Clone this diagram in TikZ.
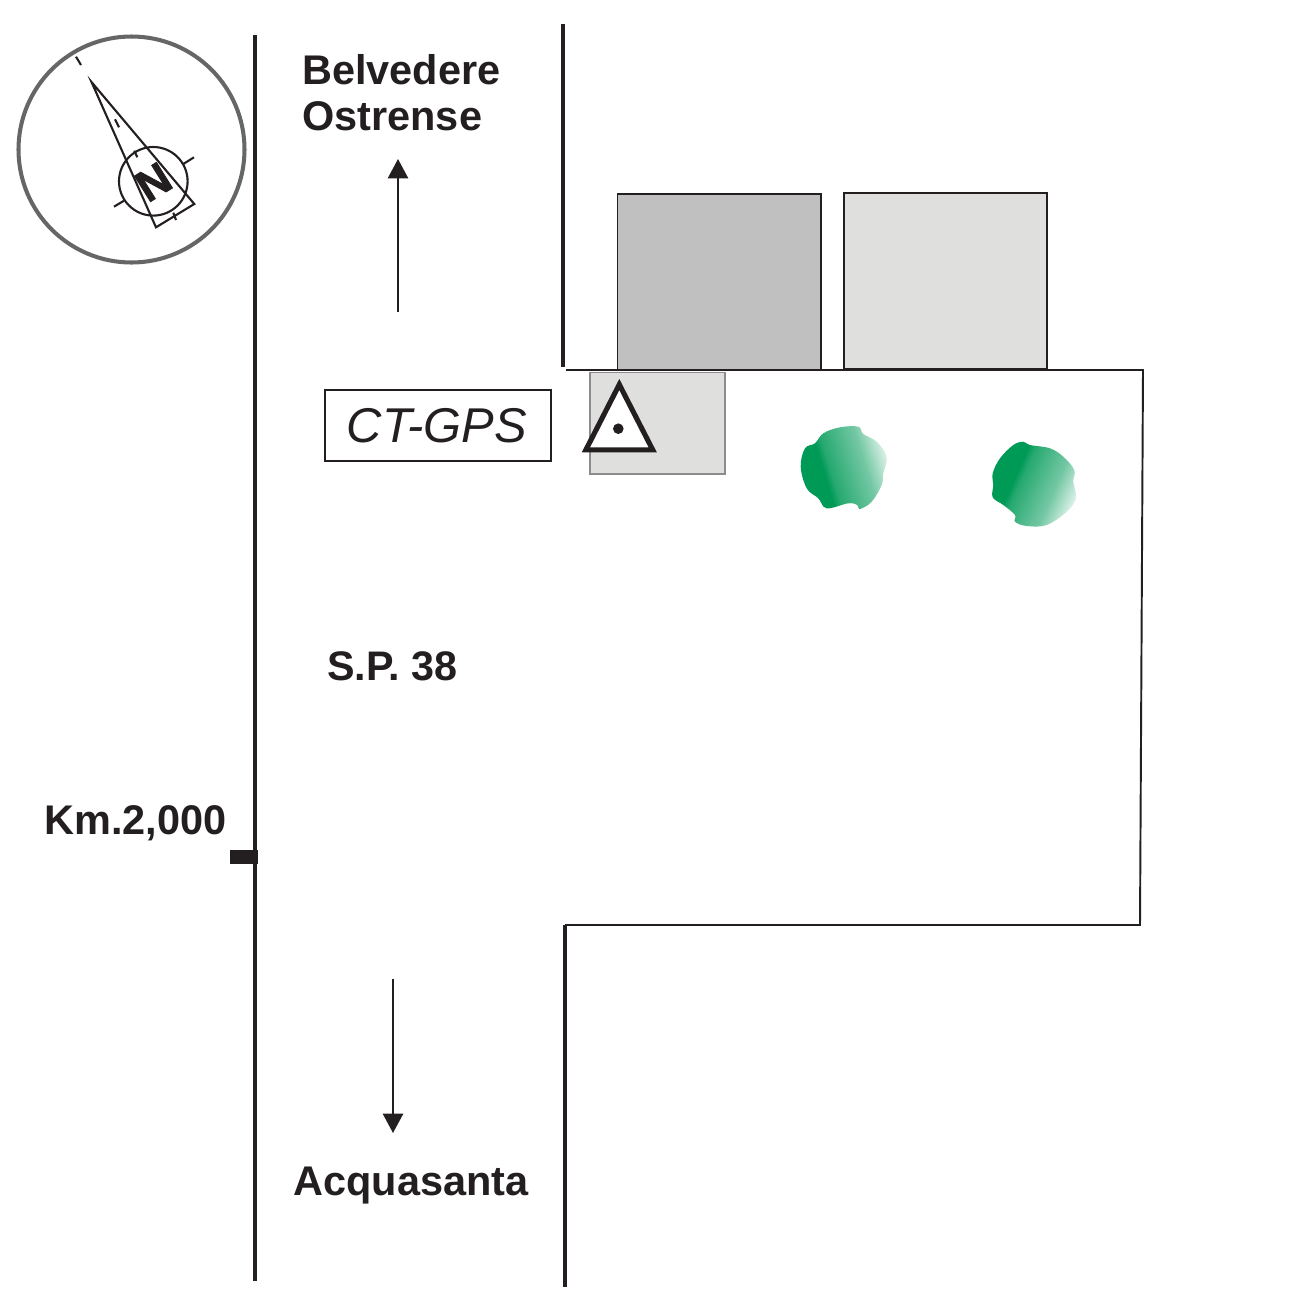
\documentclass[tikz,border=0pt]{standalone}
\usepackage{fontspec}
\setmainfont{Liberation Sans}
\newfontfamily\heavyfont[BoldFeatures={FakeBold=2}]{Liberation Sans}
\usetikzlibrary{arrows.meta}
\definecolor{ink}{HTML}{231F20}
\definecolor{treegreen}{HTML}{009A57}
\definecolor{bldA}{HTML}{C0C0C0}
\definecolor{bldB}{HTML}{DFDFDE}
\pgfdeclarehorizontalshading{treeshade}{100bp}{color(0bp)=(treegreen); color(38bp)=(treegreen); color(42bp)=(treegreen!85!white); color(62bp)=(treegreen!55!white); color(80bp)=(white); color(100bp)=(white)}
\tikzset{
 road/.style={draw=ink,line width=2.1pt},
 thinline/.style={draw=ink,line width=1.1pt},
 lbl/.style={anchor=base west,inner sep=0pt,text=ink,font=\fontsize{23.6pt}{28pt}\selectfont\bfseries},
 building/.style={draw=ink,line width=1.1pt},
 compass/.style={draw=ink,line width=1.2pt},
 flow/.style={draw=ink,line width=1.1pt,-{Triangle[length=11pt,width=11.5pt]}},
 tree/.style={shading=treeshade,draw=none}
}
\begin{document}
\begin{tikzpicture}[x=0.02cm,y=-0.02cm]
\useasboundingbox (0,0) rectangle (1299,1299);
% roads
\draw[road] (255,35) -- (255,1281);
\draw[road] (563,24) -- (563,367);
\draw[road] (565,925) -- (565,1287);
% buildings
\draw[building,fill=bldA] (617.5,194) rectangle (821,370);
\draw[building,fill=bldB] (844,193) rectangle (1047,369);
% boundary
\draw[thinline] (566,370) -- (1143,370) -- (1140,925) -- (565,925);
% station plot
\draw[draw=black!45,line width=0.8pt,fill=bldB] (590,372.5) rectangle (725,474);
\draw[draw=ink,line width=2.9pt,fill=white,miter limit=10] (619.3,384.5) -- (652.7,449.8) -- (585.9,449.8) -- cycle;
\fill[ink] (618.3,428.7) circle (5.3);
% trees
\shade[tree,shading angle=17] plot[smooth cycle,tension=0.6] coordinates {(800.7,466.7)(805,448.3)(815,443.3)(823.3,433.3)(840,427.3)(858.3,426.7)(863.3,434)(876.7,441.7)(886.7,456.7)(883.3,473.3)(881.7,485)(871.7,501.7)(860,509)(857.3,505)(848.3,503.3)(826.7,508.3)(818.3,498.3)(806.7,488.3)};
\shade[tree,shading angle=-24] plot[smooth cycle,tension=0.6] coordinates {(992.7,473.3)(1000,458.3)(1013.3,445)(1023.3,441.7)(1030,445)(1050,448.3)(1063.3,456.7)(1074.3,470)(1073.3,481.7)(1076,498.3)(1066.7,511.7)(1046.7,525)(1026.7,526)(1015,521.7)(1015,515)(1003.3,505)(992.7,497.3)(993.3,485)};
% compass
\draw[draw=black!60,line width=2.3pt] (131.5,149.5) circle (113);
\draw[compass,line join=miter] (91.5,82) -- (156,227.3) -- (194.3,204) -- cycle;
\draw[compass] (153.3,181.3) circle (34.3);
\draw[compass] (76,56.7) -- (81,65);
\draw[compass] (115,119.3) -- (119,127.3);
\draw[compass] (134.3,150.7) -- (137.3,157.3);
\draw[compass] (173.3,212.7) -- (176,220);
\draw[compass] (183.3,164) -- (194,157.3);
\draw[compass] (114,206.7) -- (124,200.7);
\node[rotate=32,inner sep=0pt,text=ink,font=\fontsize{25pt}{25pt}\selectfont\heavyfont\bfseries] (north) at (153.5,182) {N};
% labels
\node[lbl] (belv) at (302,84) {Belvedere};
\node[lbl] (ostr) at (302,130) {Ostrense};
\node[lbl,font=\fontsize{23.5pt}{28pt}\selectfont\bfseries] (sp) at (327,680) {S.P. 38};
\node[lbl] (km) at (44,834) {Km.2,000};
\node[lbl] (acq) at (293,1195) {Acquasanta};
\node[draw=ink,line width=1pt,fill=white,minimum width=226*0.02cm,minimum height=71*0.02cm,inner sep=0pt,text=ink] (ct) at (438,425.5) {};
\node[anchor=base west,inner sep=0pt,text=ink,font=\fontsize{27.8pt}{32pt}\selectfont\itshape] (ctlabel) at (346.5,442) {CT-GPS};
% km mark
\fill[ink] (230,850) rectangle (258,864);
% direction arrows
\coordinate (upS) at (398,312);
\coordinate (upE) at (398,159);
\coordinate (dnS) at (393,979);
\coordinate (dnE) at (393,1133);
\draw[flow] (upS) -- (upE);
\draw[flow] (dnS) -- (dnE);
\end{tikzpicture}
\end{document}
